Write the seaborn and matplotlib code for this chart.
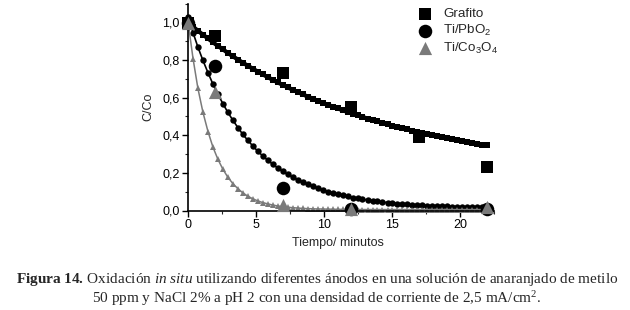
import matplotlib
matplotlib.use("Agg")
import matplotlib.pyplot as plt
from matplotlib.ticker import MultipleLocator, FuncFormatter
import seaborn as sns

# ========== DATA ==========
# measured points (time in minutes, C/Co)
t_exp = [0, 2, 7, 12, 17, 22]
grafito_exp = [1.00, 0.93, 0.73, 0.55, 0.39, 0.23]

t_exp_pbo2 = [0, 2, 7, 12, 22]
pbo2_exp = [1.00, 0.77, 0.12, 0.01, 0.01]

t_exp_co3o4 = [0, 2, 7, 12, 22]
co3o4_exp = [1.00, 0.63, 0.03, 0.01, 0.02]

# fitted curves
t_fit = [0.00, 0.37, 0.73, 1.10, 1.47, 1.83, 2.20, 2.57, 2.93, 3.30,
         3.67, 4.03, 4.40, 4.77, 5.13, 5.50, 5.87, 6.23, 6.60, 6.97,
         7.33, 7.70, 8.07, 8.43, 8.80, 9.17, 9.53, 9.90, 10.27, 10.63,
         11.00, 11.37, 11.73, 12.10, 12.47, 12.83, 13.20, 13.57, 13.93, 14.30,
         14.67, 15.03, 15.40, 15.77, 16.13, 16.50, 16.87, 17.23, 17.60, 17.97,
         18.33, 18.70, 19.07, 19.43, 19.80, 20.17, 20.53, 20.90, 21.27, 21.63,
         22.00]

grafito_fit = [1.000, 0.978, 0.956, 0.935, 0.915, 0.895, 0.875, 0.857, 0.838, 0.820,
               0.803, 0.786, 0.770, 0.754, 0.739, 0.724, 0.709, 0.695, 0.681, 0.668,
               0.655, 0.642, 0.630, 0.618, 0.606, 0.595, 0.584, 0.573, 0.563, 0.553,
               0.543, 0.533, 0.524, 0.515, 0.506, 0.498, 0.489, 0.481, 0.474, 0.466,
               0.459, 0.451, 0.444, 0.438, 0.431, 0.425, 0.418, 0.412, 0.406, 0.401,
               0.395, 0.390, 0.384, 0.379, 0.374, 0.369, 0.365, 0.360, 0.356, 0.351,
               0.347]

pbo2_fit = [1.030, 0.946, 0.869, 0.798, 0.733, 0.673, 0.618, 0.568, 0.522, 0.480,
            0.441, 0.405, 0.373, 0.343, 0.315, 0.290, 0.267, 0.246, 0.226, 0.208,
            0.192, 0.177, 0.163, 0.151, 0.139, 0.128, 0.119, 0.110, 0.101, 0.094,
            0.087, 0.081, 0.075, 0.069, 0.064, 0.060, 0.056, 0.052, 0.049, 0.045,
            0.042, 0.040, 0.037, 0.035, 0.033, 0.031, 0.029, 0.028, 0.026, 0.025,
            0.024, 0.023, 0.022, 0.021, 0.020, 0.019, 0.018, 0.018, 0.017, 0.016,
            0.016]

co3o4_fit = [1.005, 0.808, 0.649, 0.522, 0.420, 0.338, 0.272, 0.219, 0.177, 0.143,
             0.116, 0.094, 0.076, 0.062, 0.051, 0.042, 0.035, 0.029, 0.024, 0.020,
             0.017, 0.015, 0.013, 0.011, 0.010, 0.009, 0.008, 0.008, 0.007, 0.007,
             0.006, 0.006, 0.005, 0.005, 0.005, 0.005, 0.005, 0.005, 0.005, 0.005,
             0.005, 0.005, 0.005, 0.005, 0.005, 0.005, 0.005, 0.005, 0.005, 0.005,
             0.005, 0.005, 0.005, 0.005, 0.005, 0.005, 0.005, 0.005, 0.005, 0.005,
             0.005]

labels = ['Grafito', 'Ti/PbO$_2$', 'Ti/Co$_3$O$_4$']
caption_1 = (r'$\mathbf{Figura\ 14.}\,$Oxidación $\mathit{in\ situ}$ utilizando '
             'diferentes ánodos en una solución de anaranjado de metilo')
caption_2 = '50 ppm y NaCl 2% a pH 2 con una densidad de corriente de 2,5 mA/cm$^2$.'
# ==========================

GRAY = '#7a7a7a'

sns.set_style('ticks')
plt.rcParams['font.family'] = ['Liberation Sans', 'DejaVu Sans']
plt.rcParams['mathtext.fontset'] = 'custom'
plt.rcParams['mathtext.rm'] = 'Liberation Serif'
plt.rcParams['mathtext.it'] = 'Liberation Serif:italic'
plt.rcParams['mathtext.bf'] = 'Liberation Serif:bold'
plt.rcParams['mathtext.default'] = 'regular'

fig = plt.figure(figsize=(6.3, 3.1), dpi=100)
ax = fig.add_axes([188 / 630, 99.5 / 310, 306 / 630, 206.8 / 310])

# fitted curves
sns.lineplot(x=t_fit, y=grafito_fit, ax=ax, color='black', linewidth=3.0,
             marker='s', markersize=5.0, markeredgewidth=0, clip_on=False, zorder=2)
sns.lineplot(x=t_fit, y=pbo2_fit, ax=ax, color='black', linewidth=1.2,
             marker='o', markersize=4.6, markeredgewidth=0, clip_on=False, zorder=2)
sns.lineplot(x=t_fit, y=co3o4_fit, ax=ax, color=GRAY, linewidth=1.1,
             marker='^', markersize=4.6, markeredgewidth=0, clip_on=False, zorder=2)

# experimental points
sns.scatterplot(x=t_exp, y=grafito_exp, ax=ax, color='black', marker='s',
                s=75, linewidth=0, clip_on=False, zorder=4, label=labels[0])
sns.scatterplot(x=t_exp_pbo2, y=pbo2_exp, ax=ax, color='black', marker='o',
                s=95, linewidth=0, clip_on=False, zorder=4, label=labels[1])
sns.scatterplot(x=t_exp_co3o4, y=co3o4_exp, ax=ax, color=GRAY, marker='^',
                s=90, linewidth=0, clip_on=False, zorder=5, label=labels[2])

ax.set_xlim(0, 22.5)
ax.set_ylim(0, 1.1)
ax.xaxis.set_major_locator(MultipleLocator(5))
ax.xaxis.set_minor_locator(MultipleLocator(2.5))
ax.yaxis.set_major_locator(MultipleLocator(0.2))
ax.yaxis.set_minor_locator(MultipleLocator(0.1))
ax.yaxis.set_major_formatter(FuncFormatter(lambda v, _: f'{v:.1f}'.replace('.', ',')))
ax.tick_params(which='major', direction='out', length=4, width=1, labelsize=9,
               colors='black', pad=2)
ax.tick_params(which='minor', direction='out', length=2, width=0.8)
sns.despine(ax=ax)
for sp in ('left', 'bottom'):
    ax.spines[sp].set_linewidth(1.2)
    ax.spines[sp].set_color('black')

ax.set_xlabel('Tiempo/ minutos', fontsize=9)
ax.set_ylabel('C/Co', fontsize=9)
ax.xaxis.set_label_coords(0.49, -0.13)
ax.yaxis.set_label_coords(-0.11, 0.5)

handles, labs = ax.get_legend_handles_labels()
ax.legend(handles[-3:], labs[-3:], loc='upper left', bbox_to_anchor=(418 / 630, 1 - 8 / 310),
          bbox_transform=fig.transFigure, frameon=False, borderpad=0, borderaxespad=0,
          handletextpad=0.9, labelspacing=0.2, handlelength=1.0, fontsize=9.6)

fig.text(0.503, 1 - 279 / 310, caption_1, ha='center', va='center',
         family='Liberation Serif', fontsize=11)
fig.text(0.503, 1 - 299 / 310, caption_2, ha='center', va='center',
         family='Liberation Serif', fontsize=11)

fig.savefig('out.png', dpi=100)
